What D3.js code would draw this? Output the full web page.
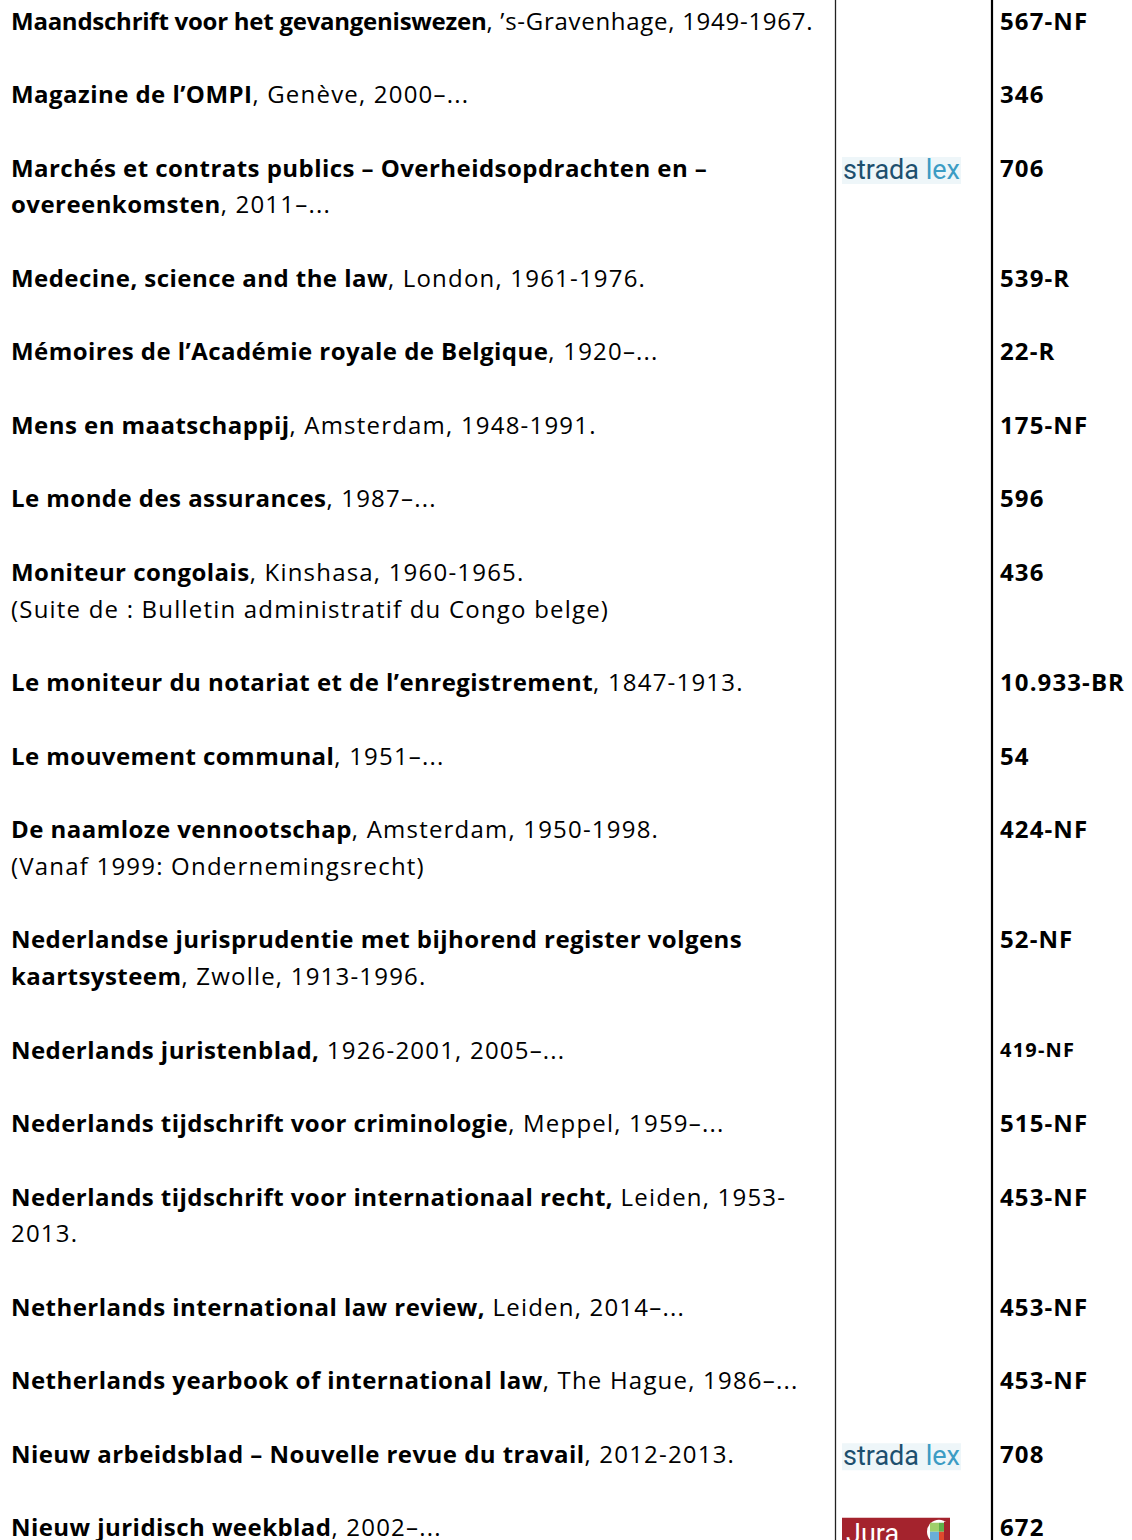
<!DOCTYPE html>
<html>
<head>
<meta charset="utf-8">
<script src="https://cdn.jsdelivr.net/npm/d3@7"></script>
<style>
  html, body { margin: 0; padding: 0; background: #fff; }
  svg { display: block; }
</style>
</head>
<body>
<div id="chart"></div>
<script>
// Each entry: lines of [bold?, text] segments
const entries = [
  [[[1, 'Maandschrift voor het gevangeniswezen'], [0, ', ’s-Gravenhage, 1949-1967.']]],
  [[[1, 'Magazine de l’OMPI'], [0, ', Genève, 2000–...']]],
  [[[1, 'Marchés et contrats publics – Overheidsopdrachten en –']], [[1, 'overeenkomsten'], [0, ', 2011–...']]],
  [[[1, 'Medecine, science and the law'], [0, ', London, 1961-1976.']]],
  [[[1, 'Mémoires de l’Académie royale de Belgique'], [0, ', 1920–...']]],
  [[[1, 'Mens en maatschappij'], [0, ', Amsterdam, 1948-1991.']]],
  [[[1, 'Le monde des assurances'], [0, ', 1987–...']]],
  [[[1, 'Moniteur congolais'], [0, ', Kinshasa, 1960-1965.']], [[0, '(Suite de : Bulletin administratif du Congo belge)']]],
  [[[1, 'Le moniteur du notariat et de l’enregistrement'], [0, ', 1847-1913.']]],
  [[[1, 'Le mouvement communal'], [0, ', 1951–...']]],
  [[[1, 'De naamloze vennootschap'], [0, ', Amsterdam, 1950-1998.']], [[0, '(Vanaf 1999: Ondernemingsrecht)']]],
  [[[1, 'Nederlandse jurisprudentie met bijhorend register volgens']], [[1, 'kaartsysteem'], [0, ', Zwolle, 1913-1996.']]],
  [[[1, 'Nederlands juristenblad,'], [0, ' 1926-2001, 2005–...']]],
  [[[1, 'Nederlands tijdschrift voor criminologie'], [0, ', Meppel, 1959–...']]],
  [[[1, 'Nederlands tijdschrift voor internationaal recht,'], [0, ' Leiden, 1953-']], [[0, '2013.']]],
  [[[1, 'Netherlands international law review,'], [0, ' Leiden, 2014–...']]],
  [[[1, 'Netherlands yearbook of international law'], [0, ', The Hague, 1986–...']]],
  [[[1, 'Nieuw arbeidsblad – Nouvelle revue du travail'], [0, ', 2012-2013.']]],
  [[[1, 'Nieuw juridisch weekblad'], [0, ', 2002–...']]]
];

const codes = ['567-NF', '346', '706', '539-R', '22-R', '175-NF', '596', '436', '10.933-BR', '54',
  '424-NF', '52-NF', '419-NF', '515-NF', '453-NF', '453-NF', '453-NF', '708', '672'];

// small-print codes
const smallCodes = [12];

// logos per row index
const logos = { 2: 'strada', 17: 'strada', 18: 'jura' };

const width = 1132, height = 1540;
const textX = 11, logoX = 842, codeX = 1000;
const lineA = 835.5, lineB = 992;
const fontFamily = '"Open Sans", "Noto Sans", sans-serif';

// tracking: [bold, regular]; the first row is set tighter in the source
const tracking = [0.45, 1.2];
const trackingOverride = { 0: [-0.25, 0.72] };

// line units: single-line row = 2 units, each extra line adds 1
let unit = 0;
const rows = entries.map((lines, i) => {
  const r = { lines, unit, code: codes[i], logo: logos[i] };
  unit += 1 + lines.length;
  return r;
});

const y = d3.scaleLinear().domain([0, 1]).range([21, 57.75]);

const svg = d3.select('#chart').append('svg')
  .attr('width', width)
  .attr('height', height)
  .attr('viewBox', [0, 0, width, height]);

svg.append('rect').attr('width', width).attr('height', height).attr('fill', '#fff');

// column rules
svg.append('line')
  .attr('x1', lineA).attr('x2', lineA).attr('y1', 0).attr('y2', height)
  .attr('stroke', '#222').attr('stroke-width', 1.3);
svg.append('line')
  .attr('x1', lineB).attr('x2', lineB).attr('y1', 0).attr('y2', height)
  .attr('stroke', '#000').attr('stroke-width', 2.2);

const g = svg.append('g');

rows.forEach((r, i) => {
  const tr = trackingOverride[i] || tracking;
  r.lines.forEach((segs, li) => {
    const t = g.append('text')
      .attr('x', textX)
      .attr('y', y(r.unit + li))
      .attr('dy', '0.36em')
      .style('font-family', fontFamily)
      .style('font-size', '24px')
      .style('fill', '#000');
    segs.forEach(([b, s]) => {
      t.append('tspan')
        .style('font-weight', b ? 700 : 400)
        .style('letter-spacing', (b ? tr[0] : tr[1]) + 'px')
        .text(s);
    });
  });

  const small = smallCodes.includes(i);
  g.append('text')
    .attr('x', codeX)
    .attr('y', y(r.unit))
    .attr('dy', '0.36em')
    .style('font-family', fontFamily)
    .style('font-size', small ? '20px' : '24px')
    .style('letter-spacing', small ? '1.2px' : '1.1px')
    .style('font-weight', 700)
    .style('fill', '#000')
    .text(r.code);

  const cy = y(r.unit);
  if (r.logo === 'strada') {
    const lg = g.append('g').attr('transform', `translate(${logoX},${cy - 11})`);
    lg.append('rect').attr('width', 119).attr('height', 27).attr('fill', '#eef6f9');
    const lt = lg.append('text')
      .attr('x', 1).attr('y', 22)
      .attr('textLength', 117)
      .attr('lengthAdjust', 'spacingAndGlyphs')
      .style('font-family', 'Roboto, "DejaVu Sans", sans-serif')
      .style('font-size', '27px');
    lt.append('tspan').attr('fill', '#1d4f6e').text('strada ');
    lt.append('tspan').attr('fill', '#3c9cc4').text('lex');
  } else if (r.logo === 'jura') {
    const lg = g.append('g').attr('transform', `translate(${logoX},${cy - 10})`);
    lg.append('rect').attr('width', 108).attr('height', 30).attr('fill', '#a4232d');
    lg.append('text')
      .attr('x', 4).attr('y', 25)
      .style('font-family', 'Roboto, sans-serif')
      .style('font-size', '27px')
      .style('fill', '#fff')
      .text('Jura');
    const ic = lg.append('g').attr('transform', 'translate(97,14)');
    ic.append('circle').attr('r', 12).attr('fill', '#fff');
    ic.append('rect').attr('x', -9).attr('y', -9).attr('width', 9).attr('height', 9).attr('fill', '#9fcf6a');
    ic.append('rect').attr('x', 0).attr('y', -9).attr('width', 9).attr('height', 9).attr('fill', '#5fb04a');
    ic.append('rect').attr('x', -9).attr('y', 0).attr('width', 9).attr('height', 9).attr('fill', '#6aaed8');
    ic.append('rect').attr('x', 0).attr('y', 0).attr('width', 9).attr('height', 9).attr('fill', '#e04a2c');
    ic.append('rect').attr('x', 5).attr('y', -10).attr('width', 6).attr('height', 20).attr('fill', '#a4232d');
  }
});
</script>
</body>
</html>
